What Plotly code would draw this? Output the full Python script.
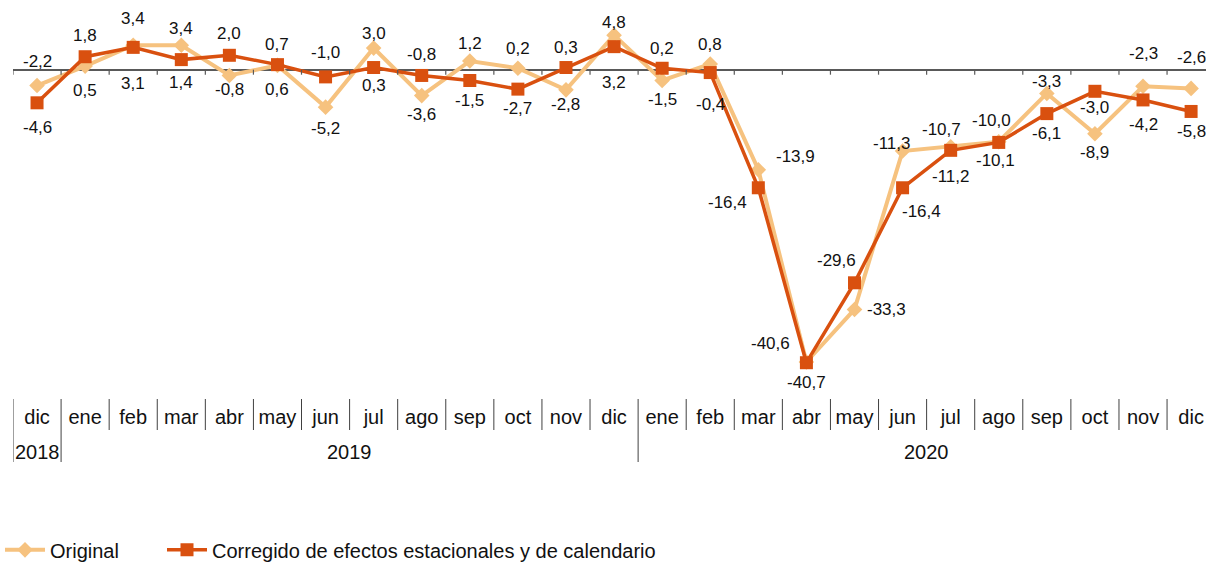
import plotly.graph_objects as go

# ---------------- data ----------------
months = ["dic", "ene", "feb", "mar", "abr", "may", "jun", "jul", "ago", "sep", "oct", "nov", "dic",
          "ene", "feb", "mar", "abr", "may", "jun", "jul", "ago", "sep", "oct", "nov", "dic"]
years = ["2018", "2019", "2020"]
year_first = [0, 1, 13]   # index of first month of each year
year_last = [0, 12, 24]   # index of last month of each year

original = [-2.2, 0.5, 3.4, 3.4, -0.8, 0.6, -5.2, 3.0, -3.6, 1.2, 0.2, -2.8, 4.8,
            -1.5, 0.8, -13.9, -40.6, -33.3, -11.3, -10.7, -10.0, -3.3, -8.9, -2.3, -2.6]
corregido = [-4.6, 1.8, 3.1, 1.4, 2.0, 0.7, -1.0, 0.3, -0.8, -1.5, -2.7, 0.3, 3.2,
             0.2, -0.4, -16.4, -40.7, -29.6, -16.4, -11.2, -10.1, -6.1, -3.0, -4.2, -5.8]

# ---------------- styles ----------------
C_ORIG = "#F6C27F"
C_CORR = "#D9500F"
FONT = "Liberation Sans, Arial, sans-serif"
TXT = "#111111"

# label offsets in px (dx, dy) where dy > 0 means below the point
orig_off = [(0, -24), (0, 24), (0, -27), (0, -17), (0, 14), (0, 24), (0, 21), (0, -15), (0, 19),
            (0, -18), (0, -20), (0, 15), (0, -13), (0, 19), (0, -19), (37, -13), (-36, -19),
            (32, 0), (-11, -8), (-9, -17), (-7, -21), (0, -12), (0, 19), (0, -33), (0, -31)]
corr_off = [(0, 25), (0, -21), (0, 36), (0, 23), (0, -22), (0, -20), (0, -24), (0, 18), (0, -21),
            (0, 20), (0, 19), (0, -20), (0, 36), (0, -20), (0, 32), (-31, 15), (0, 20),
            (-18, -22), (19, 24), (0, 26), (-3, 18), (0, 20), (0, 16), (0, 25), (0, 20)]

x = list(range(len(months)))

fig = go.Figure()
fig.add_trace(go.Scatter(
    x=x, y=original, name="Original", mode="lines+markers",
    line=dict(color=C_ORIG, width=4),
    marker=dict(symbol="diamond", size=12, color=C_ORIG),
    cliponaxis=False, legendwidth=107,
))
fig.add_trace(go.Scatter(
    x=x, y=corregido, name="Corregido de efectos estacionales y de calendario",
    mode="lines+markers",
    line=dict(color=C_CORR, width=3.5),
    marker=dict(symbol="square", size=13, color=C_CORR),
    cliponaxis=False, legendwidth=540,
))


def fmt(v):
    return f"{v:.1f}".replace(".", ",")


annotations = []
for series, offs in ((original, orig_off), (corregido, corr_off)):
    for i, v in enumerate(series):
        dx, dy = offs[i]
        annotations.append(dict(
            x=i, y=v, xref="x", yref="y", text=fmt(v), showarrow=False,
            xshift=dx, yshift=-dy, font=dict(family=FONT, size=17, color=TXT),
        ))

# year labels
for name, a, b in zip(years, year_first, year_last):
    annotations.append(dict(
        x=(a + b) / 2, y=0, xref="x", yref="paper", yanchor="middle",
        yshift=-54, text=name, showarrow=False,
        font=dict(family=FONT, size=20, color=TXT),
    ))

shapes = []
year_bounds = set([a - 0.5 for a in year_first] + [year_last[-1] + 0.5])
for k in range(len(months) + 1):
    b = k - 0.5
    # small ticks on the zero line
    shapes.append(dict(type="line", xref="x", yref="y", x0=b, x1=b,
                       ysizemode="pixel", yanchor=0, y0=0, y1=-5,
                       line=dict(color="#595959", width=1.2)))
    # category dividers below the plot
    length = 64 if b in year_bounds else 32
    shapes.append(dict(type="line", xref="x", yref="paper", x0=b, x1=b,
                       ysizemode="pixel", yanchor=0, y0=-1, y1=-length,
                       line=dict(color="#404040", width=1)))

W, H = 1206, 562
ML, MR, MT, MB = 13, 0, 0, 164
plot_w = W - ML - MR

fig.update_layout(
    width=W, height=H,
    margin=dict(l=ML, r=MR, t=MT, b=MB, autoexpand=False),
    paper_bgcolor="white", plot_bgcolor="white",
    font=dict(family=FONT, color=TXT),
    showlegend=True,
    legend=dict(orientation="h", x=-ML / plot_w, xanchor="left",
                y=-0.3325, yanchor="top",
                font=dict(family=FONT, size=20, color=TXT),
                itemwidth=40, bgcolor="rgba(0,0,0,0)"),
    annotations=annotations,
    shapes=shapes,
)
fig.update_xaxes(range=[-0.5, 24.31], tickmode="array", tickvals=x, ticktext=months,
                 ticks="", showline=False, showgrid=False, zeroline=False,
                 tickfont=dict(family=FONT, size=20, color=TXT), ticklabelstandoff=5)
fig.update_yaxes(range=[-45.6, 9.68], showticklabels=False, showgrid=False,
                 zeroline=True, zerolinecolor="#595959", zerolinewidth=1.5, ticks="")

fig.write_html("out.html", config={"displayModeBar": False},
               post_script="document.body.style.margin='0';document.body.style.overflow='hidden';")
